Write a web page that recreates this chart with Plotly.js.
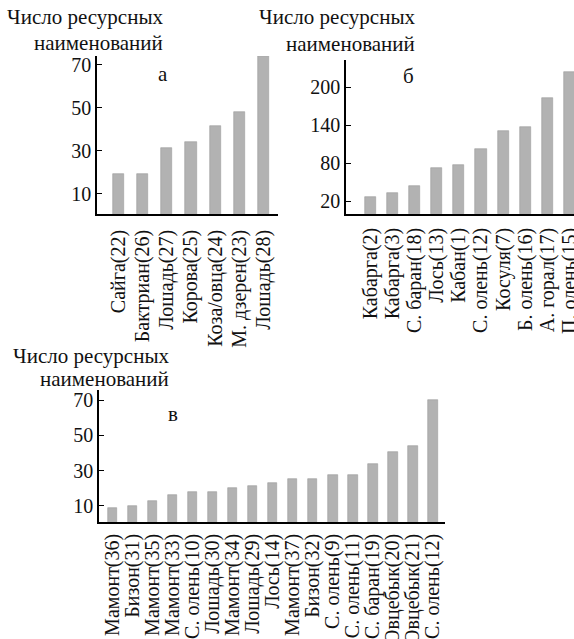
<!DOCTYPE html>
<html><head><meta charset="utf-8">
<script src="https://cdn.plot.ly/plotly-3.0.1.min.js"></script>
<style>
html,body{margin:0;padding:0;background:#fff}
#c text{font-family:"Liberation Serif","Times New Roman",serif !important}
</style>
</head><body><div id="c"></div>
<script>
const catsA = ['Сайга(22)','Бактриан(26)','Лошадь(27)','Корова(25)','Коза/овца(24)','М. дзерен(23)','Лошадь(28)'];
const valsA = [19.3,19.3,31,34.1,41.5,48,74];
const catsB = ['Кабарга(2)','Кабарга(3)','С. баран(18)','Лось(13)','Кабан(1)','С. олень(12)','Косуля(7)','Б. олень(16)','А. горал(17)','П. олень(15)'];
const valsB = [26.8,33.1,44.7,72.5,77.2,102.4,131.3,136.5,182.7,223.7];
const catsC = ['Мамонт(36)','Бизон(31)','Мамонт(35)','Мамонт(33)','С. олень(10)','Лошадь(30)','Мамонт(34)','Лошадь(29)','Лось(14)','Мамонт(37)','Бизон(32)','С. олень(9)','С. олень(11)','С. баран(19)','Овцебык(20)','Овцебык(21)','С. олень(12)'];
const valsC = [9.1,10.2,12.8,16.1,17.8,17.8,20,21.4,22.9,25,25,27.8,27.8,33.7,40.7,43.9,70];
const ticksA = [10,30,50,70];
const ticksB = [20,80,140,200];
const ticksC = [10,30,50,70];
const yTitle = ['Число ресурсных','наименований'];
const panelLetters = ['а','б','в'];

const W=574,H=639;
const FONT='Liberation Serif';
const px = x => x/W, py = y => 1 - y/H;
const barStyle = {color:'#b2b2b2', line:{color:'#9c9c9c', width:0.6}};

function bar(cats, vals, xa, ya, w){
  return {type:'bar', x:cats, y:vals, xaxis:xa, yaxis:ya, width:w, marker:barStyle, hoverinfo:'skip'};
}
const data = [
  bar(catsA, valsA, 'x', 'y', 0.46),
  bar(catsB, valsB, 'x2', 'y2', 0.5),
  bar(catsC, valsC, 'x3', 'y3', 0.47)
];
function xax(dom, range, anchor, standoff, cats){
  return {domain:dom, range:range, anchor:anchor, type:'category', showline:true, linecolor:'#000', linewidth:1.6,
    ticks:'', tickangle:-90, showgrid:false, zeroline:false,
    tickmode:'array', tickvals:cats, ticktext:cats,
    tickfont:{family:FONT,size:20,color:'#111'}, ticklabelstandoff:standoff};
}
function yax(dom, range, anchor, tv){
  return {domain:dom, range:range, anchor:anchor, showline:true, linecolor:'#000', linewidth:1.6,
    ticks:'inside', ticklen:5, tickwidth:1.3, tickcolor:'#000', tickvals:tv, ticktext:tv.map(String),
    showgrid:false, zeroline:false, tickfont:{family:FONT,size:20,color:'#111'}, ticklabelstandoff:0};
}
const ann = [];
function title(right, y1, y2){
  ann.push({text:yTitle[0], xref:'paper', yref:'paper', x:px(right), y:py(y1), xanchor:'right', yanchor:'middle', showarrow:false, font:{family:FONT,size:21,color:'#111'}});
  ann.push({text:yTitle[1], xref:'paper', yref:'paper', x:px(right), y:py(y2), xanchor:'right', yanchor:'middle', showarrow:false, font:{family:FONT,size:21,color:'#111'}});
}
title(165,17,43);
title(417,17,44);
title(171,356,379);
function letter(t,x,y){
  ann.push({text:t, xref:'paper', yref:'paper', x:px(x), y:py(y), xanchor:'center', yanchor:'middle', showarrow:false, font:{family:FONT,size:21,color:'#111'}});
}
letter(panelLetters[0],163,74);
letter(panelLetters[1],408,76);
letter(panelLetters[2],173,414);

const layout = {
  width:W, height:H, margin:{l:0,r:0,t:0,b:0}, paper_bgcolor:'#fff', plot_bgcolor:'#fff',
  font:{family:FONT, color:'#111'},
  showlegend:false, bargap:0,
  xaxis: xax([px(97),px(278)], [-0.89,6.6], 'y', 6, catsA),
  yaxis: yax([py(214),py(56)], [0.5,74], 'x', ticksA),
  xaxis2: xax([px(346),1], [-1.11,9.21], 'y2', 4, catsB),
  yaxis2: yax([py(214),py(60)], [0,243], 'x2', ticksB),
  xaxis3: xax([px(99),px(445)], [-0.67,16.6], 'y3', 2, catsC),
  yaxis3: yax([py(522),py(390)], [0.9,75.7], 'x3', ticksC),
  annotations: ann
};
Plotly.newPlot('c', data, layout, {displayModeBar:false});
</script></body></html>
